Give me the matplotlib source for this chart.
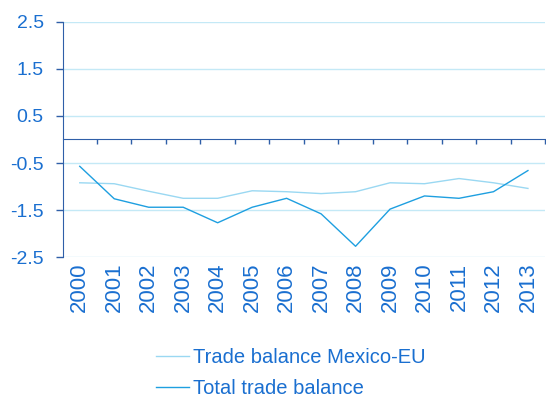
import matplotlib
matplotlib.use('Agg')
import matplotlib.pyplot as plt
import numpy as np

# Data
years = ['2000', '2001', '2002', '2003', '2004', '2005', '2006',
         '2007', '2008', '2009', '2010', '2011', '2012', '2013']
mexico_eu = [-0.92, -0.94, -1.10, -1.25, -1.25, -1.09, -1.11,
             -1.15, -1.11, -0.92, -0.94, -0.83, -0.92, -1.04]
total = [-0.57, -1.26, -1.44, -1.44, -1.77, -1.44, -1.25,
         -1.58, -2.27, -1.48, -1.20, -1.25, -1.11, -0.66]
y_ticks = [2.5, 1.5, 0.5, -0.5, -1.5, -2.5]

label_color = '#1a6fd0'
spine_color = '#2f5fa8'
grid_color = '#c4e9f6'

plt.rcParams['font.family'] = ['Liberation Sans', 'DejaVu Sans']

fig = plt.figure(figsize=(5.46, 3.98), dpi=100)
ax = fig.add_axes([0.1145, 0.354, 0.884, 0.591])

x = np.arange(len(years))
ax.plot(x, mexico_eu, color='#9ad8f2', linewidth=1.0, label='Trade balance Mexico-EU')
ax.plot(x, total, color='#1e9fe0', linewidth=1.0, label='Total trade balance')

ax.set_xlim(-0.5, len(years) - 0.5)
ax.set_ylim(-2.5, 2.5)

# y axis
ax.set_yticks(y_ticks)
ax.set_yticklabels([f'{v:.1f}' for v in y_ticks])
ax.yaxis.grid(True, color=grid_color, linewidth=1.0)
ax.set_axisbelow(True)
ax.tick_params(axis='y', colors=spine_color, labelcolor=label_color,
               labelsize=14, length=5, width=1, pad=8.5)

# x axis: labels at the bottom, tick line at zero
ax.set_xticks(x)
ax.set_xticklabels(years)
ax.set_xticks(np.arange(0.5, len(years), 1.0), minor=True)
ax.tick_params(axis='x', which='major', length=0, labelcolor=label_color,
               labelsize=16, labelrotation=90, pad=4, bottom=True, top=False)
ax.tick_params(axis='x', which='minor', length=3.6, width=1, color=spine_color,
               top=True, bottom=False, direction='in')

ax.spines['top'].set_position(('data', 0))
ax.spines['top'].set_color(spine_color)
ax.spines['left'].set_color(spine_color)
ax.spines['right'].set_visible(False)
ax.spines['bottom'].set_visible(False)

fig.legend(loc='upper left', bbox_to_anchor=(0.286, 0.126), frameon=False,
           fontsize=14.5, labelcolor=label_color, handlelength=1.65,
           handletextpad=0.2, labelspacing=0.62, borderaxespad=0, borderpad=0)

fig.savefig('out.png', dpi=100)
